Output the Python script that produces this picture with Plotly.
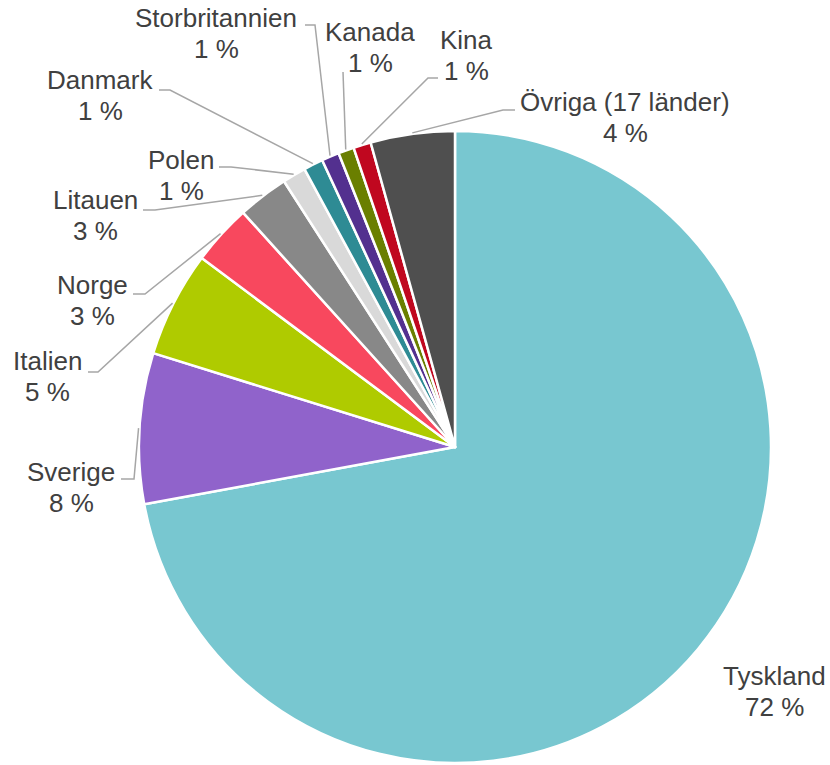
import math
import plotly.graph_objects as go

# Data (share of total, %)
countries = ['Tyskland', 'Sverige', 'Italien', 'Norge', 'Litauen', 'Polen',
             'Danmark', 'Storbritannien', 'Kanada', 'Kina', 'Övriga (17 länder)']
shares = [72.1, 7.7, 5.4, 3.1, 2.6, 1.2, 1.0, 0.9, 0.8, 0.9, 4.3]
colors = ['#78C7D0', '#9063CB', '#AFCB00', '#F8485E', '#888888', '#D9D9D9',
          '#2E8B94', '#53308F', '#6A7F00', '#C0071F', '#4F4F4F']

# Label layout (pixels): text centre x, name line y, leader elbow/end points
label_x = [774, 71, 47, 92, 95, 181, 100, 216, 370, 466, 625]
label_y = [676, 472, 361, 285, 200, 160, 80, 18, 32, 40, 102]
leaders = [
    None,
    [(134, 479), (121, 479)],
    [(98, 372), (88, 372)],
    [(145, 294), (133, 294)],
    [(155, 210), (143, 210)],
    [(231, 167), (219, 167)],
    [(170, 90), (159, 90)],
    [(315, 25), (305, 25)],
    [(343, 72)],
    [(428, 78), (438, 78)],
    [(503, 110), (515, 110)],
]

W, H = 830, 765
CX, CY, R = 455, 447, 316


def px(x, y):
    return x / W, 1 - y / H


fig = go.Figure()

x0, y1 = px(CX - R, CY - R)
x1, y0 = px(CX + R, CY + R)
fig.add_trace(go.Pie(
    labels=countries,
    values=shares,
    sort=False,
    direction='clockwise',
    rotation=0,
    textinfo='none',
    hoverinfo='label+percent',
    marker=dict(colors=colors, line=dict(color='white', width=2.5)),
    domain=dict(x=[x0, x1], y=[y0, y1]),
    showlegend=False,
))

total = sum(shares)
font = dict(family='Arial, Liberation Sans, sans-serif', size=26, color='#404040')
annotations = []
shapes = []
cum = 0
for name, v, lx, ly, pts in zip(countries, shares, label_x, label_y, leaders):
    mid = (cum + v / 2) / total * 2 * math.pi
    cum += v
    pct = f'{round(v / total * 100)} %'
    for txt, yy in [(name, ly), (pct, ly + 31)]:
        x, y = px(lx, yy)
        annotations.append(dict(text=txt, x=x, y=y, xref='paper', yref='paper',
                                xanchor='center', yanchor='middle',
                                showarrow=False, font=font))
    if pts:
        sx = CX + (R + 1) * math.sin(mid)
        sy = CY - (R + 1) * math.cos(mid)
        path_pts = [(sx, sy)] + pts
        path = 'M ' + ' L '.join(f'{px(a, b)[0]:.5f},{px(a, b)[1]:.5f}' for a, b in path_pts)
        shapes.append(dict(type='path', path=path, xref='paper', yref='paper',
                           line=dict(color='#A6A6A6', width=1.5)))

fig.update_layout(
    width=W,
    height=H,
    margin=dict(l=0, r=0, t=0, b=0),
    paper_bgcolor='white',
    plot_bgcolor='white',
    annotations=annotations,
    shapes=shapes,
)

# drop the default body margin so the figure fills the window exactly
fig.write_html('out.html', config={'displayModeBar': False},
               post_script="document.body.style.margin='0';")
